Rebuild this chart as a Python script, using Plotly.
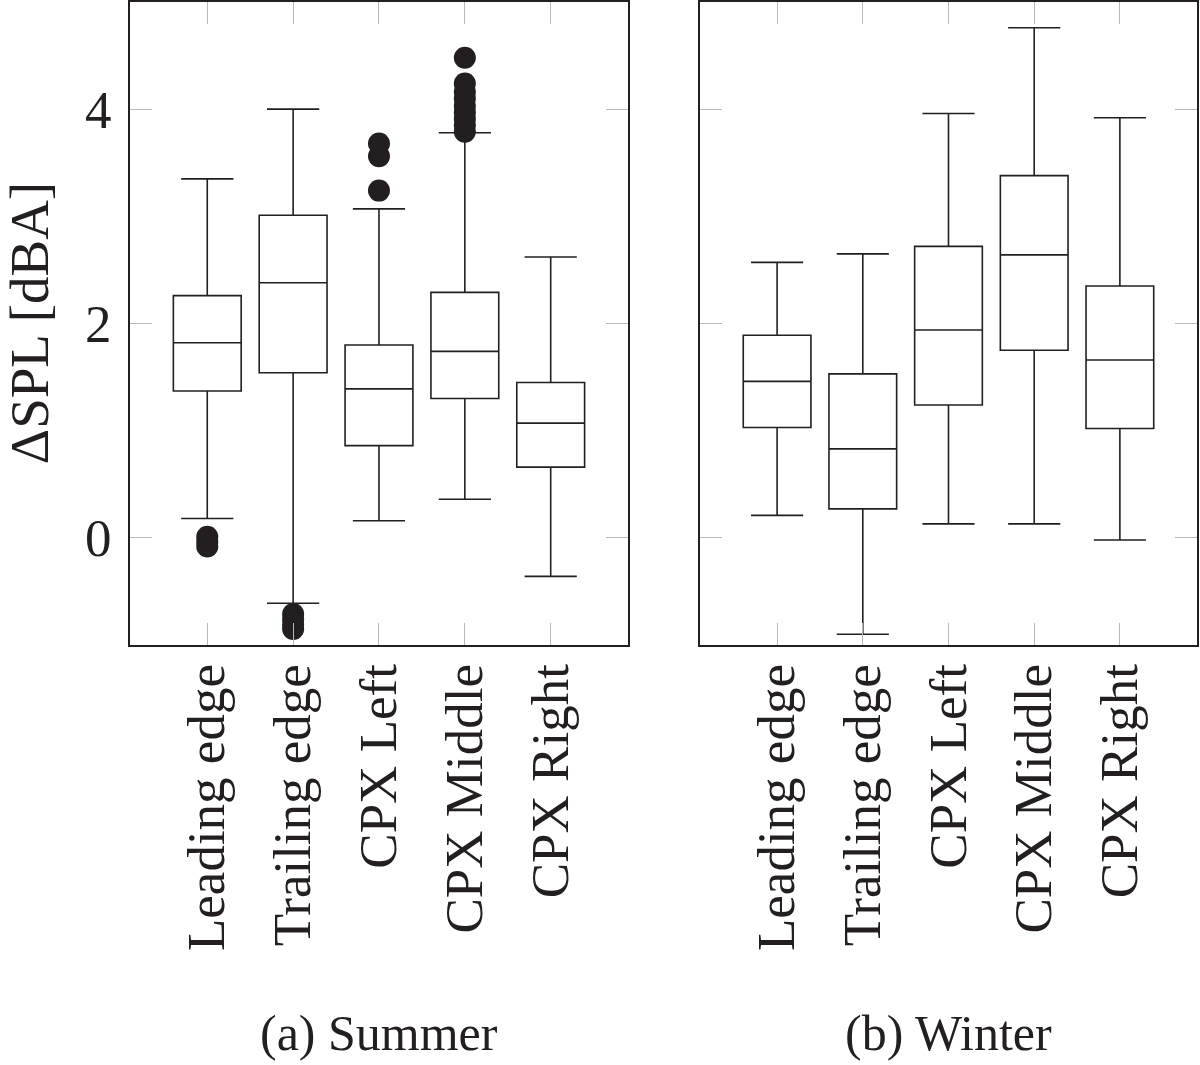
import plotly.graph_objects as go

categories = ['Leading edge', 'Trailing edge', 'CPX Left', 'CPX Middle', 'CPX Right']

# summer statistics
summer_lower = [0.18, -0.61, 0.16, 0.36, -0.36]
summer_q1 = [1.37, 1.54, 0.86, 1.30, 0.66]
summer_median = [1.82, 2.38, 1.39, 1.74, 1.07]
summer_q3 = [2.26, 3.01, 1.80, 2.29, 1.45]
summer_upper = [3.35, 4.00, 3.07, 3.78, 2.62]

# summer outliers (category index, value)
summer_out_cat = [0, 0, 0, 1, 1, 1, 1, 2, 2, 2,
                  3, 3, 3, 3, 3, 3, 3, 3, 3]
summer_out_val = [0.01, -0.04, -0.08, -0.71, -0.76, -0.81, -0.85, 3.68, 3.56, 3.24,
                  4.48, 4.24, 4.16, 4.10, 4.03, 3.97, 3.91, 3.85, 3.79]

# winter statistics
winter_lower = [0.21, -0.90, 0.13, 0.13, -0.02]
winter_q1 = [1.03, 0.27, 1.24, 1.75, 1.02]
winter_median = [1.46, 0.83, 1.94, 2.64, 1.66]
winter_q3 = [1.89, 1.53, 2.72, 3.38, 2.35]
winter_upper = [2.57, 2.65, 3.96, 4.76, 3.92]

y_ticks = [0, 2, 4]

FONT = 'Liberation Serif'
INK = '#231f20'
idx = list(range(len(categories)))

fig = go.Figure()

fig.add_trace(go.Box(
    x=idx, q1=summer_q1, median=summer_median, q3=summer_q3,
    lowerfence=summer_lower, upperfence=summer_upper,
    boxpoints=False, width=0.79, whiskerwidth=0.77,
    line=dict(color=INK, width=1.6), fillcolor='white',
    xaxis='x', yaxis='y', showlegend=False))

fig.add_trace(go.Scatter(
    x=summer_out_cat, y=summer_out_val, mode='markers',
    marker=dict(color=INK, size=22),
    xaxis='x', yaxis='y', showlegend=False))

fig.add_trace(go.Box(
    x=idx, q1=winter_q1, median=winter_median, q3=winter_q3,
    lowerfence=winter_lower, upperfence=winter_upper,
    boxpoints=False, width=0.79, whiskerwidth=0.77,
    line=dict(color=INK, width=1.6), fillcolor='white',
    xaxis='x2', yaxis='y2', showlegend=False))

xax = dict(range=[-0.9, 4.9], tickvals=idx, ticktext=categories, tickangle=-90,
           ticks='inside', ticklen=22, tickwidth=1.2, tickcolor='#b8b8b8',
           showline=True, linecolor=INK, linewidth=1.8, mirror='allticks',
           showgrid=False, zeroline=False, ticklabelstandoff=-4, automargin=False,
           tickfont=dict(family=FONT, size=53, color=INK))
yax = dict(range=[-1, 5], tickvals=y_ticks,
           ticks='inside', ticklen=22, tickwidth=1.2, tickcolor='#b8b8b8',
           showline=True, linecolor=INK, linewidth=1.8, mirror='allticks',
           showgrid=False, zeroline=False, ticklabelstandoff=6, automargin=False,
           tickfont=dict(family=FONT, size=53, color=INK))

fig.update_layout(
    width=1200, height=1065,
    margin=dict(l=130, r=3, t=2, b=420),
    plot_bgcolor='white', paper_bgcolor='white',
    xaxis=dict(xax, domain=[0, 0.4667], anchor='y'),
    yaxis=dict(yax, anchor='x'),
    xaxis2=dict(xax, domain=[0.5342, 1], anchor='y2'),
    yaxis2=dict(yax, anchor='x2', showticklabels=False),
    annotations=[
        dict(text='ΔSPL [dBA]', textangle=-90, x=-0.094, y=0.5,
             xref='paper', yref='paper', xanchor='center', yanchor='middle',
             showarrow=False, font=dict(family=FONT, size=55, color=INK)),
        dict(text='(a) Summer', x=0.2333, y=-0.603, xref='paper', yref='paper',
             xanchor='center', yanchor='middle',
             showarrow=False, font=dict(family=FONT, size=50, color=INK)),
        dict(text='(b) Winter', x=0.7671, y=-0.603, xref='paper', yref='paper',
             xanchor='center', yanchor='middle',
             showarrow=False, font=dict(family=FONT, size=50, color=INK)),
    ],
)

# drop the default page margin so the figure fills the window exactly
fig.write_html("out.html", config={'displayModeBar': False},
               post_script="document.body.style.margin='0';")
